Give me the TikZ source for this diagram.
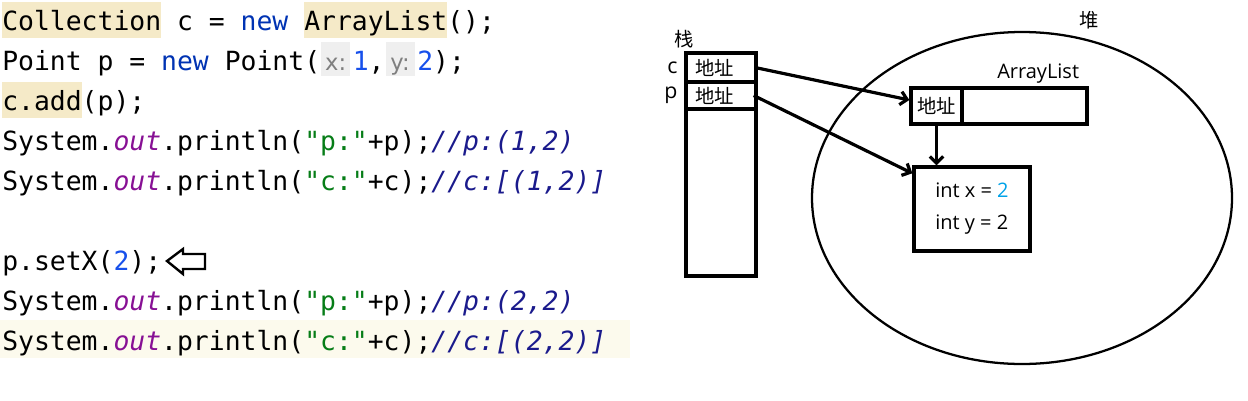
\documentclass[tikz,border=0pt]{standalone}
\usepackage{fontspec}
\usepackage{xcolor}
\usetikzlibrary{positioning,arrows.meta,shapes.geometric}   %relative placement, tips, ellipse

\newfontfamily\codefont{DejaVu Sans Mono}
\newfontfamily\hintfont{DejaVu Sans}
\newfontfamily\uifont{Open Sans}
\newfontfamily\cjkfont{Noto Sans CJK SC}

%IDE colours
\definecolor{kwblue}{HTML}{0033B3}
\definecolor{numblue}{HTML}{1750EB}
\definecolor{strgreen}{HTML}{067D17}
\definecolor{fldpurple}{HTML}{871094}
\definecolor{cmtnavy}{HTML}{1A1A8C}
\definecolor{hltan}{HTML}{F5EAC8}
\definecolor{curline}{HTML}{FCFAED}
\definecolor{hintbg}{HTML}{EFEFEF}
\definecolor{hintfg}{HTML}{7F7F7F}
\definecolor{valblue}{HTML}{00A2E8}

\newcommand{\kw}[1]{\textcolor{kwblue}{#1}}
\newcommand{\nm}[1]{\textcolor{numblue}{#1}}
\newcommand{\strg}[1]{\textcolor{strgreen}{#1}}
\newcommand{\fld}[1]{\textcolor{fldpurple}{\itshape #1}}
\newcommand{\cmt}[1]{\textcolor{cmtnavy}{\itshape #1}}
\newcommand{\hl}[1]{{\fboxsep=0pt\colorbox{hltan}{\rule[-6pt]{0pt}{27pt}#1}}}
\newcommand{\hint}[1]{\hspace{0.75pt}{\fboxsep=0pt\colorbox{hintbg}{\rule[-4.5pt]{0pt}{25.5pt}\makebox[21.75pt]{\hintfont\fontsize{17pt}{17pt}\selectfont\color{hintfg}#1}}}\hspace{2pt}}

\begin{document}
\begin{tikzpicture}[x=0.75pt,y=-0.75pt,
  code/.style={font=\codefont\fontsize{19.8pt}{24pt}\selectfont,inner sep=0pt,anchor=base west},
  box/.style={draw,line width=2.5pt,inner sep=0pt},
  cell/.style={box,minimum width=52.5pt,text width=39pt,inner xsep=6.75pt,align=left,font=\cjkfont\fontsize{14.5pt}{16pt}\selectfont},
  cjk/.style={font=\cjkfont\fontsize{14.5pt}{16pt}\selectfont,inner sep=1pt},
  ui/.style={font=\uifont\fontsize{15pt}{17pt}\selectfont,inner sep=1pt},
  ptr/.style={line width=2.4pt,-{Straight Barb[length=5pt,width=10pt]}}]

\useasboundingbox (0,0) rectangle (1248,400);

% current line of the editor
\fill[curline] (0,320) rectangle (630,358);

% Java code
\node[code] (l1) at (2,30) {\hl{Collection} c = \kw{new} \hl{ArrayList}();};
\node[code] (l2) at (2,70) {Point p = \kw{new} Point(\hint{x:}\nm{1},\hint{y:}\nm{2});};
\node[code] (l3) at (2,110) {\hl{c.add}(p);};
\node[code] (l4) at (2,150) {System.\fld{out}.println(\strg{"p:"}+p);\cmt{//p:(1,2)}};
\node[code] (l5) at (2,190) {System.\fld{out}.println(\strg{"c:"}+c);\cmt{//c:[(1,2)]}};
\node[code] (l7) at (2,270) {p.setX(\nm{2});};
\node[code] (l8) at (2,310) {System.\fld{out}.println(\strg{"p:"}+p);\cmt{//p:(2,2)}};
\node[code] (l9) at (2,350) {System.\fld{out}.println(\strg{"c:"}+c);\cmt{//c:[(2,2)]}};

% hollow marker arrow
\draw[line width=1.8pt,line join=miter] (167,261) -- (183,249) -- (183,254) -- (205,254)
  -- (205,269) -- (183,269) -- (183,274) -- cycle;

% heap
\node[draw,ellipse,line width=1.7pt,inner sep=0pt,minimum width=315pt,minimum height=249pt] (heap) at (1022,198) {};
\node[cjk,above right=0pt and 42pt of heap.north] (heaplbl) {堆};

% stack
\node[box,minimum width=52.5pt,minimum height=167.25pt] (stack) at (721,164.5) {};
\node[cell,minimum height=21.75pt] (cc) at (721,67.5) {地址};
\node[cell,minimum height=20.25pt] (pc) at (721,95.5) {地址};
\node[cjk,above=1pt of stack.north west] (stacklbl) {栈};
\node[ui,font=\uifont\fontsize{16pt}{17pt}\selectfont,left=4pt of cc.west] (clbl) {c};
\node[ui,font=\uifont\fontsize{16pt}{17pt}\selectfont,left=4pt of pc.west] (plbl) {p};

% ArrayList and Point objects
\node[box,minimum width=132pt,minimum height=27pt] (al) at (999,106) {};
\node[box,minimum width=38.25pt,minimum height=27pt,font=\cjkfont\fontsize{14.5pt}{16pt}\selectfont] (alc) at (936.5,106) {地址};
\node[ui,above left=1pt and 6pt of al.north east] (allbl) {ArrayList};
\node[box,minimum width=87pt,minimum height=63pt,align=left,font=\uifont\fontsize{15pt}{24pt}\selectfont] (obj) at (972,209)
  {int x = \textcolor{valblue}{2}\\int y = 2};

% references
\draw[ptr] ([xshift=-2pt]cc.east) -- ([yshift=4.5pt]alc.west);
\draw[ptr] ([xshift=-3pt]pc.east) -- ([yshift=-6pt]obj.north west);
\draw[ptr] (alc.south) -- (alc.south |- obj.north);

\end{tikzpicture}
\end{document}
